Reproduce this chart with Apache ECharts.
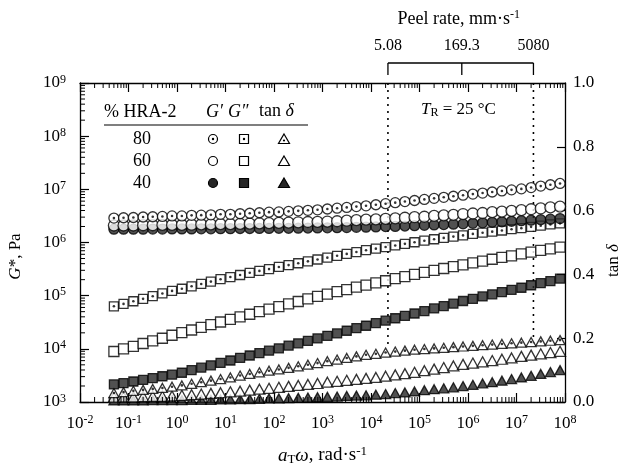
<!DOCTYPE html>
<html><head><meta charset="utf-8">
<script src="https://cdn.jsdelivr.net/npm/echarts@6/dist/echarts.min.js"></script>
<style>html,body{margin:0;padding:0;background:#fff}#c{width:633px;height:472px}</style>
</head><body><div id="c"></div>
<script>
// ---- data ----
const omega = [0.05, 0.079, 0.126, 0.2, 0.316, 0.5, 0.79, 1.26, 2, 3.16, 5, 7.9, 12.6, 20, 31.6, 50, 79, 126, 200, 316, 500, 790, 1260, 2000, 3160, 5000, 7900, 1.26e4, 2e4, 3.16e4, 5e4, 7.9e4, 1.26e5, 2e5, 3.16e5, 5e5, 7.9e5, 1.26e6, 2e6, 3.16e6, 5e6, 7.9e6, 1.26e7, 2e7, 3.16e7, 5e7, 7.9e7];
const gp80 = [2.88e6,2.92e6,2.95e6,3.02e6,3.05e6,3.09e6,3.16e6,3.16e6,3.24e6,3.27e6,3.31e6,3.39e6,3.39e6,3.47e6,3.55e6,3.63e6,3.72e6,3.76e6,3.85e6,3.94e6,4.03e6,4.12e6,4.27e6,4.42e6,4.57e6,4.73e6,4.90e6,5.13e6,5.37e6,5.62e6,5.89e6,6.17e6,6.46e6,6.76e6,7.08e6,7.41e6,7.76e6,8.13e6,8.51e6,8.91e6,9.33e6,9.77e6,1.02e7,1.08e7,1.15e7,1.22e7,1.29e7];
const gp60 = [2.09e6,2.09e6,2.09e6,2.11e6,2.11e6,2.14e6,2.14e6,2.14e6,2.16e6,2.19e6,2.19e6,2.21e6,2.21e6,2.24e6,2.26e6,2.29e6,2.32e6,2.34e6,2.37e6,2.40e6,2.43e6,2.45e6,2.48e6,2.51e6,2.57e6,2.63e6,2.69e6,2.72e6,2.79e6,2.85e6,2.92e6,2.99e6,3.05e6,3.16e6,3.24e6,3.31e6,3.43e6,3.51e6,3.59e6,3.72e6,3.80e6,3.94e6,4.07e6,4.22e6,4.37e6,4.57e6,4.73e6];
const gp40 = [1.78e6,1.78e6,1.78e6,1.78e6,1.79e6,1.79e6,1.80e6,1.80e6,1.80e6,1.81e6,1.81e6,1.82e6,1.82e6,1.83e6,1.83e6,1.84e6,1.84e6,1.85e6,1.85e6,1.86e6,1.87e6,1.88e6,1.89e6,1.90e6,1.91e6,1.93e6,1.94e6,1.96e6,1.99e6,2.01e6,2.04e6,2.07e6,2.10e6,2.14e6,2.17e6,2.21e6,2.24e6,2.29e6,2.34e6,2.40e6,2.45e6,2.51e6,2.57e6,2.63e6,2.69e6,2.75e6,2.82e6];
const gpp80 = [6.31e4,7.0e4,7.85e4,8.71e4,9.77e4,1.10e5,1.23e5,1.35e5,1.50e5,1.66e5,1.84e5,2.04e5,2.24e5,2.45e5,2.69e5,2.92e5,3.16e5,3.47e5,3.76e5,4.07e5,4.42e5,4.79e5,5.19e5,5.62e5,6.10e5,6.61e5,7.16e5,7.67e5,8.22e5,8.81e5,9.44e5,1.01e6,1.08e6,1.15e6,1.22e6,1.29e6,1.36e6,1.45e6,1.53e6,1.60e6,1.68e6,1.78e6,1.86e6,1.97e6,2.07e6,2.19e6,2.29e6];
const gpp60 = [8.91e3,1.0e4,1.11e4,1.26e4,1.41e4,1.58e4,1.80e4,2.02e4,2.26e4,2.54e4,2.85e4,3.20e4,3.59e4,3.98e4,4.47e4,5.01e4,5.56e4,6.24e4,7.0e4,7.76e4,8.71e4,9.66e4,1.07e5,1.19e5,1.30e5,1.45e5,1.58e5,1.74e5,1.91e5,2.09e5,2.29e5,2.51e5,2.75e5,2.99e5,3.24e5,3.51e5,3.80e5,4.12e5,4.47e5,4.84e5,5.25e5,5.62e5,6.10e5,6.61e5,7.08e5,7.59e5,8.22e5];
const gpp40 = [2.14e3,2.26e3,2.43e3,2.60e3,2.82e3,3.05e3,3.27e3,3.55e3,3.98e3,4.42e3,4.90e3,5.43e3,6.03e3,6.76e3,7.50e3,8.32e3,9.23e3,1.02e4,1.15e4,1.27e4,1.41e4,1.57e4,1.76e4,1.95e4,2.19e4,2.45e4,2.72e4,3.05e4,3.39e4,3.76e4,4.17e4,4.62e4,5.13e4,5.75e4,6.38e4,7.08e4,7.94e4,8.71e4,9.66e4,1.06e5,1.17e5,1.29e5,1.41e5,1.57e5,1.72e5,1.88e5,2.09e5];
const tan80 = [0.028,0.031,0.035,0.038,0.041,0.044,0.048,0.052,0.057,0.062,0.067,0.072,0.077,0.083,0.088,0.093,0.098,0.102,0.107,0.112,0.117,0.122,0.128,0.133,0.138,0.143,0.148,0.151,0.155,0.158,0.161,0.164,0.166,0.168,0.170,0.172,0.174,0.176,0.178,0.180,0.182,0.184,0.186,0.188,0.190,0.192,0.194];
const tan60 = [0.015,0.016,0.016,0.017,0.018,0.018,0.019,0.021,0.023,0.025,0.027,0.029,0.032,0.034,0.037,0.040,0.043,0.046,0.049,0.052,0.055,0.058,0.062,0.065,0.068,0.071,0.074,0.077,0.081,0.085,0.089,0.093,0.098,0.103,0.108,0.113,0.118,0.122,0.126,0.130,0.134,0.138,0.143,0.147,0.151,0.155,0.159];
const tan40 = [0.005,0.005,0.005,0.005,0.006,0.006,0.006,0.006,0.007,0.007,0.007,0.008,0.008,0.009,0.009,0.010,0.011,0.011,0.012,0.013,0.014,0.015,0.016,0.017,0.019,0.020,0.021,0.023,0.025,0.028,0.030,0.033,0.037,0.040,0.043,0.046,0.050,0.054,0.058,0.062,0.067,0.072,0.077,0.082,0.088,0.094,0.100];
const hraLevels = ['80', '60', '40'];
const peelRates = [5.08, 169.3, 5080];            // mm·s-1
const peelLabels = ['5.08', '169.3', '5080'];
const peelToOmega = 4400;                          // reduced frequency per peel rate (alignment of top scale)
const tanTicks = ['0.0', '0.2', '0.4', '0.6', '0.8', '1.0'];

// ---- styling ----
const FONT = '"Liberation Serif", "Times New Roman", serif';
const BLACK = '#000';
const DARK = '#262626';
const pairs = arr => omega.map((w, i) => [w, arr[i]]);
const expLabel = v => '{b|10}{s|' + Math.round(Math.log10(v)) + '}';
const expRich = {
  b: { fontFamily: FONT, fontSize: 17, color: BLACK, lineHeight: 19 },
  s: { fontFamily: FONT, fontSize: 12, color: BLACK, verticalAlign: 'top', lineHeight: 11 }
};
function makeRich(size) {
  return {
    i: { fontFamily: FONT, fontSize: size, fontStyle: 'italic', color: BLACK, lineHeight: size + 2 },
    n: { fontFamily: FONT, fontSize: size, color: BLACK, lineHeight: size + 2 },
    sub: { fontFamily: FONT, fontSize: Math.round(size * 0.68), color: BLACK, verticalAlign: 'bottom', lineHeight: 10 },
    sup: { fontFamily: FONT, fontSize: Math.round(size * 0.68), color: BLACK, verticalAlign: 'top', lineHeight: 10 }
  };
}
function minorValues(lo, hi) {
  const out = [];
  for (let n = lo; n < hi; n++) for (let k = 2; k <= 9; k++) out.push(k * Math.pow(10, n));
  return out;
}

const open = { color: '#fff', borderColor: BLACK, borderWidth: 1.3 };
const filled = { color: DARK, borderColor: BLACK, borderWidth: 1.3 };
function scatter(data, symbol, size, style, yAxisIndex, z) {
  return { type: 'scatter', data: data, symbol: symbol, symbolSize: size, itemStyle: style,
    yAxisIndex: yAxisIndex, xAxisIndex: 0, silent: true, z: z || 3, clip: false };
}
function dot(data, yAxisIndex, z) {
  return scatter(data, 'circle', 2.6, { color: BLACK }, yAxisIndex, z || 3);
}

const series = [];
// dotted guide lines at the first and last peel rate
[peelRates[0], peelRates[peelRates.length - 1]].forEach(p => {
  series.push({ type: 'line', xAxisIndex: 0, yAxisIndex: 0, symbol: 'none', silent: true, z: 2,
    data: [[p * peelToOmega, 1e9], [p * peelToOmega, 1.1e4]],
    lineStyle: { color: BLACK, width: 1.6, type: [2, 5] } });
});
// tan delta
series.push(scatter(pairs(tan40), 'triangle', [10, 9], filled, 1));
series.push(scatter(pairs(tan60), 'triangle', [11, 10], open, 1));
series.push(scatter(pairs(tan80), 'triangle', [10, 9], open, 1));
series.push(dot(pairs(tan80), 1));
// G''
series.push(scatter(pairs(gpp40), 'rect', 9, filled, 0));
series.push(scatter(pairs(gpp60), 'rect', 10, open, 0));
series.push(scatter(pairs(gpp80), 'rect', 9, open, 0));
series.push(dot(pairs(gpp80), 0));
// G'
series.push(scatter(pairs(gp40), 'circle', 10, filled, 0));
series.push(scatter(pairs(gp60), 'circle', 11, open, 0));
series.push(scatter(pairs(gp80), 'circle', 10, open, 0));
series.push(dot(pairs(gp80), 0));

// minor ticks (log decades) on bottom/top and left
series.push({ type: 'custom', xAxisIndex: 0, yAxisIndex: 0, silent: true, clip: false, z: 5,
  data: minorValues(-2, 8).map(v => [v, 1e6]),
  renderItem(params, api) {
    const cs = params.coordSys;
    const px = api.coord([api.value(0), 1e6])[0];
    const yb = cs.y + cs.height, yt = cs.y;
    return { type: 'group', children: [
      { type: 'line', shape: { x1: px, y1: yb, x2: px, y2: yb - 5 }, style: { stroke: BLACK, lineWidth: 1 } },
      { type: 'line', shape: { x1: px, y1: yt, x2: px, y2: yt + 5 }, style: { stroke: BLACK, lineWidth: 1 } }
    ] };
  } });
series.push({ type: 'custom', xAxisIndex: 0, yAxisIndex: 0, silent: true, clip: false, z: 5,
  data: minorValues(3, 9).map(v => [1, v]),
  renderItem(params, api) {
    const cs = params.coordSys;
    const py = api.coord([1, api.value(1)])[1];
    return { type: 'line', shape: { x1: cs.x, y1: py, x2: cs.x + 5, y2: py }, style: { stroke: BLACK, lineWidth: 1 } };
  } });
// peel-rate scale above the plot
series.push({ type: 'custom', xAxisIndex: 0, yAxisIndex: 0, silent: true, clip: false, z: 5,
  data: peelRates.map(p => [p * peelToOmega, 1e9]),
  renderItem(params, api) {
    const cs = params.coordSys;
    const i = params.dataIndex;
    const px = api.coord([api.value(0), 1e9])[0];
    const yLine = cs.y - 20, yEnd = cs.y - 8;
    const ch = [
      { type: 'line', shape: { x1: px, y1: yLine, x2: px, y2: yEnd }, style: { stroke: BLACK, lineWidth: 1.3 } },
      { type: 'text', style: { text: peelLabels[i], x: px, y: cs.y - 37, align: 'center', textAlign: 'center',
        verticalAlign: 'middle', textVerticalAlign: 'middle', font: '16px ' + FONT, fill: BLACK } }
    ];
    if (i === 0) {
      const pxEnd = api.coord([peelRates[peelRates.length - 1] * peelToOmega, 1e9])[0];
      ch.push({ type: 'line', shape: { x1: px, y1: yLine, x2: pxEnd, y2: yLine }, style: { stroke: BLACK, lineWidth: 1.3 } });
    }
    if (i === 1) {
      ch.push({ type: 'text', style: { text: '{n|Peel rate, mm·s}{sup|-1}', rich: makeRich(18), x: px - 3, y: cs.y - 64,
        align: 'center', textAlign: 'center', verticalAlign: 'middle', textVerticalAlign: 'middle' } });
    }
    return { type: 'group', children: ch };
  } });

// ---- legend table (graphic) ----
const legendRowsY = [139, 161, 183];
const xG1 = 213, xG2 = 244, xTan = 284;
const LF = '18px ' + FONT;
const graphics = [
  { type: 'text', left: 104, top: 103, style: { text: '% HRA-2', font: LF, fill: BLACK } },
  { type: 'text', left: 206, top: 103, style: { text: 'G′', font: 'italic ' + LF, fill: BLACK } },
  { type: 'text', left: 228, top: 103, style: { text: 'G″', font: 'italic ' + LF, fill: BLACK } },
  { type: 'text', left: 259, top: 102, style: { text: '{n|tan }{i|δ}', rich: makeRich(18) } },
  { type: 'line', shape: { x1: 104, y1: 125, x2: 308, y2: 125 }, style: { stroke: BLACK, lineWidth: 1.2 } },
  { type: 'text', left: 421, top: 101, style: { text: '{i|T}{sub|R}{n| = 25 °C}', rich: makeRich(17) } }
];
const legendStyles = [
  { fill: '#fff', dot: true }, { fill: '#fff', dot: false }, { fill: DARK, dot: false }
];
hraLevels.forEach((lv, r) => {
  const y = legendRowsY[r];
  const st = legendStyles[r];
  graphics.push({ type: 'text', x: 142, y: y, style: { text: lv, font: LF, fill: BLACK,
    align: 'center', textAlign: 'center', verticalAlign: 'middle', textVerticalAlign: 'middle' } });
  graphics.push({ type: 'circle', shape: { cx: xG1, cy: y, r: 4.5 }, style: { fill: st.fill, stroke: BLACK, lineWidth: 1.2 } });
  graphics.push({ type: 'rect', shape: { x: xG2 - 4.5, y: y - 4.5, width: 9, height: 9 }, style: { fill: st.fill, stroke: BLACK, lineWidth: 1.2 } });
  graphics.push({ type: 'polygon', shape: { points: [[xTan, y - 5], [xTan + 5.5, y + 4.5], [xTan - 5.5, y + 4.5]] }, style: { fill: st.fill, stroke: BLACK, lineWidth: 1.2 } });
  if (st.dot) {
    graphics.push({ type: 'circle', shape: { cx: xG1, cy: y, r: 1.2 }, style: { fill: BLACK } });
    graphics.push({ type: 'circle', shape: { cx: xG2, cy: y, r: 1.2 }, style: { fill: BLACK } });
    graphics.push({ type: 'circle', shape: { cx: xTan, cy: y + 1.5, r: 1.1 }, style: { fill: BLACK } });
  }
});

const axisLineStyle = { lineStyle: { color: BLACK, width: 1.3 } };
const majorTick = { inside: true, length: 9, interval: 0, lineStyle: { color: BLACK, width: 1.2 } };
// x extent: 1e-2 .. 1e8 (min nudged by a negligible amount so the log scale steps by one decade)
const xMin = 0.0100001, xMax = 1e8;
const option = {
  animation: false,
  backgroundColor: '#fff',
  grid: { left: 80, right: 68, top: 83, bottom: 70, containLabel: false, outerBoundsMode: 'none' },
  xAxis: [
    { type: 'log', logBase: 10, min: xMin, max: xMax, position: 'bottom', splitNumber: 10, interval: 1,
      axisLine: axisLineStyle, axisTick: majorTick,
      axisLabel: { formatter: expLabel, rich: expRich, margin: 12, interval: 0, hideOverlap: false }, splitLine: { show: false },
      name: '{i|a}{sub|T}{i|ω}{n|, rad·s}{sup|-1}', nameLocation: 'middle', nameGap: 43,
      nameTextStyle: { rich: makeRich(19) } },
    { type: 'log', logBase: 10, min: xMin, max: xMax, position: 'top', splitNumber: 10, interval: 1,
      axisLine: axisLineStyle, axisTick: majorTick,
      axisLabel: { show: false }, splitLine: { show: false } }
  ],
  yAxis: [
    { type: 'log', logBase: 10, min: 1e3, max: 1e9, position: 'left', splitNumber: 6,
      axisLine: axisLineStyle, axisTick: majorTick,
      axisLabel: { formatter: expLabel, rich: expRich, margin: 14, interval: 0 }, splitLine: { show: false },
      name: '{i|G}{n|*, Pa}', nameLocation: 'middle', nameRotate: 90, nameGap: 55,
      nameTextStyle: { rich: makeRich(17), padding: [0, 28, 0, 0] } },
    { type: 'value', min: 0, max: 1, interval: 0.2, position: 'right',
      axisLine: axisLineStyle, axisTick: { inside: true, length: 8, lineStyle: { color: BLACK, width: 1.2 } },
      axisLabel: { formatter: (v, i) => tanTicks[i], fontFamily: FONT, fontSize: 17, color: BLACK, margin: 8 },
      splitLine: { show: false },
      name: '{n|tan }{i|δ}', nameLocation: 'middle', nameRotate: 90, nameGap: 26,
      nameTextStyle: { rich: makeRich(17), padding: [0, 36, 0, 0] } }
  ],
  graphic: graphics,
  series: series
};
const chart = echarts.init(document.getElementById('c'), null, { renderer: 'canvas' });
chart.setOption(option);
</script></body></html>
